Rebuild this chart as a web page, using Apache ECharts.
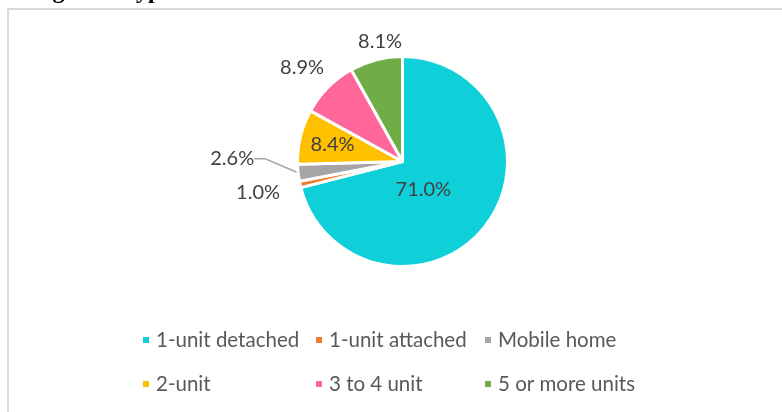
<!DOCTYPE html>
<html><head><meta charset="utf-8">
<script src="https://cdn.jsdelivr.net/npm/echarts@6/dist/echarts.min.js"></script>
<style>html,body{margin:0;padding:0;background:#fff}#c{width:782px;height:412px}</style>
</head><body><div id="c"></div>
<script>
const titleText = 'Dwelling Unit Type';
const categories = ['1-unit detached', '1-unit attached', 'Mobile home', '2-unit', '3 to 4 unit', '5 or more units'];
const shares = [71.0, 1.0, 2.6, 8.4, 8.9, 8.1];
const colors = ['#0fcfd9', '#ed7d31', '#a5a5a5', '#ffc000', '#ff6699', '#70ad47'];
const insideLabel = [true, false, false, true, false, false];
const withLeader = [false, false, true, false, false, false];
const labelShift = [[-23, -6], [-15, 8], [-8, -15], [-16, -3.5], [1, -20], [31, -18]];
const legendColumns = [[0, 3], [1, 4], [2, 5]];
const legendLeft = [141, 314, 483];

const chart = echarts.init(document.getElementById('c'), null, {renderer: 'canvas'});
chart.setOption({
  animation: false,
  backgroundColor: '#fff',
  graphic: [
    {type: 'rect', shape: {x: 8, y: 9, width: 800, height: 420}, style: {fill: 'none', stroke: '#d9d9d9', lineWidth: 2}, silent: true},
    {type: 'text', x: 172, y: -8, style: {text: titleText, font: 'bold 24px "Liberation Serif", serif', fill: '#000', align: 'right', verticalAlign: 'middle'}, silent: true}
  ],
  legend: legendColumns.map((col, k) => ({
    orient: 'vertical', left: legendLeft[k], top: 328, padding: 0, itemGap: 20,
    itemWidth: 8, itemHeight: 8, icon: 'rect', selectedMode: false,
    data: col.map(i => categories[i]),
    textStyle: {fontFamily: 'Lato', fontSize: 20.5, color: '#595959', lineHeight: 24, padding: [0, 0, 0, 1]}
  })),
  series: [{
    type: 'pie',
    center: [402.5, 161.5],
    radius: 105,
    startAngle: 90,
    clockwise: true,
    avoidLabelOverlap: false,
    emphasis: {disabled: true},
    itemStyle: {borderColor: '#fff', borderWidth: 3},
    label: {
      fontFamily: 'Lato', fontSize: 20, color: '#404040',
      formatter: p => p.value.toFixed(1) + '%'
    },
    labelLayout: function (p) {
      const s = labelShift[p.dataIndex];
      if (withLeader[p.dataIndex]) {
        return {x: p.labelRect.x + p.labelRect.width + s[0], y: p.labelRect.y + p.labelRect.height / 2 + s[1]};
      }
      return {dx: s[0], dy: s[1]};
    },
    data: categories.map((name, i) => ({
      name: name,
      value: shares[i],
      itemStyle: {color: colors[i]},
      label: insideLabel[i] ? {position: 'inside'} : {position: 'outside', padding: withLeader[i] ? [0, 5, 12, 0] : 0},
      labelLine: withLeader[i] ? {show: true, length: 10, length2: 11, lineStyle: {width: 1.5}} : {show: false, length: 0, length2: 0}
    }))
  }]
});
</script></body></html>
